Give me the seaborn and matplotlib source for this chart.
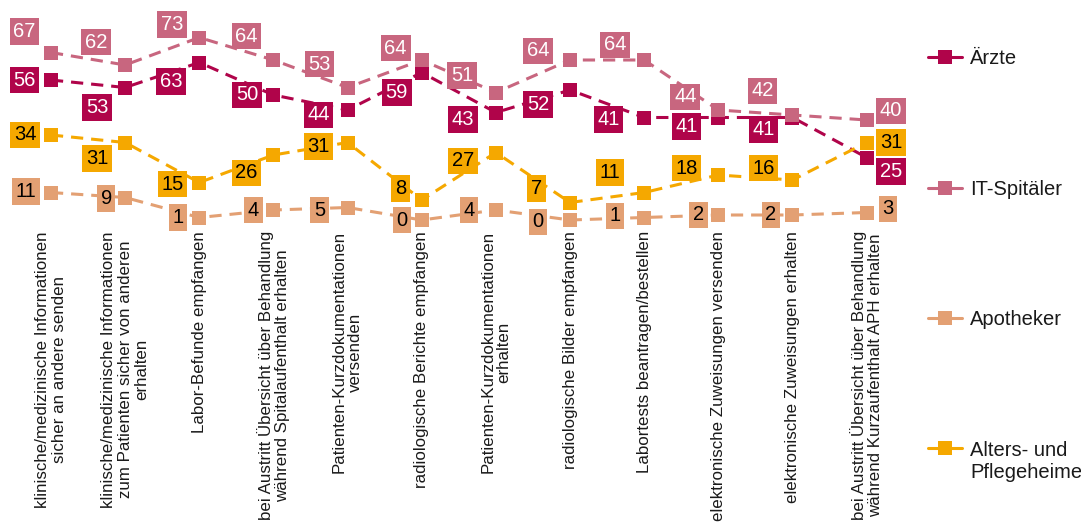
import numpy as np
import pandas as pd
import matplotlib
matplotlib.use("Agg")
import matplotlib.pyplot as plt
from matplotlib.lines import Line2D
import seaborn as sns

categories = [
    "klinische/medizinische Informationen\nsicher an andere senden",
    "klinische/medizinische Informationen\nzum Patienten sicher von anderen\nerhalten",
    "Labor-Befunde empfangen",
    "bei Austritt Übersicht über Behandlung\nwährend Spitalaufenthalt erhalten",
    "Patienten-Kurzdokumentationen\nversenden",
    "radiologische Berichte empfangen",
    "Patienten-Kurzdokumentationen\nerhalten",
    "radiologische Bilder empfangen",
    "Labortests beantragen/bestellen",
    "elektronische Zuweisungen versenden",
    "elektronische Zuweisungen erhalten",
    "bei Austritt Übersicht über Behandlung\nwährend Kurzaufenthalt APH erhalten",
]
series_names = ["Ärzte", "IT-Spitäler", "Apotheker", "Alters- und\nPflegeheime"]
aerzte = [56, 53, 63, 50, 44, 59, 43, 52, 41, 41, 41, 25]
it_spitaeler = [67, 62, 73, 64, 53, 64, 51, 64, 64, 44, 42, 40]
apotheker = [11, 9, 1, 4, 5, 0, 4, 0, 1, 2, 2, 3]
alters = [34, 31, 15, 26, 31, 8, 27, 7, 11, 18, 16, 31]

# styling
colors = ["#B0044A", "#C8667F", "#E3A073", "#F5A800"]
text_colors = ["white", "white", "black", "black"]
# label offsets in pixels (dx, dy up) relative to each marker
label_offsets = [
    [(-26.5, 0), (-28, -20), (-28, -19), (-26.5, 0), (-29, -5), (-25, -20),
     (-33, -7), (-32, -14.5), (-35.5, -2), (-32, -9), (-29, -12), (24.5, -14)],
    [(-26.5, 21), (-29, 23), (-27, 13), (-27, 24), (-28, 23.5), (-26, 12),
     (-34, 17), (-32, 9), (-29, 15), (-33, 13), (-30, 24), (24.5, 9.3)],
    [(-25, 1), (-19, -1), (-21, 0), (-20, 0), (-28, -2.6), (-20, 0),
     (-27, 0), (-32, -1.7), (-29, 1.6), (-20, 0), (-21.6, 0), (21.6, 3.6)],
    [(-26, 0), (-28, -16), (-27, -1.5), (-27, -18), (-29, -4), (-21, 11.5),
     (-33, -8.3), (-33.6, 14), (-34, 20), (-32, 7), (-29, 12), (24.5, 0)],
]

all_values = [aerzte, it_spitaeler, apotheker, alters]
rows = []
for name, vals in zip(series_names, all_values):
    for i, v in enumerate(vals):
        rows.append({"pos": i, "value": v, "series": name})
df = pd.DataFrame(rows)

sns.set_theme(style="white")
plt.rcParams["font.family"] = ["Liberation Sans", "DejaVu Sans"]

fig = plt.figure(figsize=(10.81, 5.23), dpi=100)
ax = fig.add_axes([13.9 / 1081, (523 - 220) / 523, 889.8 / 1081, 220 / 523])

sns.lineplot(
    data=df, x="pos", y="value", hue="series",
    palette=dict(zip(series_names, colors)), hue_order=series_names,
    marker="s", markersize=9.5, markeredgewidth=0,
    linewidth=2.2, linestyle=(0, (4, 2.6)), legend=False, ax=ax, clip_on=False,
)

for k, (name, vals) in enumerate(zip(series_names, all_values)):
    for i, v in enumerate(vals):
        dx, dy = label_offsets[k][i]
        ax.annotate(
            str(v), xy=(i, v), xytext=(dx, dy), textcoords="offset pixels",
            ha="center", va="center", fontsize=14.5, color=text_colors[k],
            bbox=dict(boxstyle="square,pad=0.18", fc=colors[k], ec="none"),
            annotation_clip=False, zorder=5,
        )

ax.set_xlim(-0.5, len(categories) - 0.5)
ax.set_ylim(0, 88)
ax.set_xticks(range(len(categories)))
ax.set_xticklabels(categories, rotation=90, fontsize=12.2, linespacing=1.1,
                   color="#1a1a1a")
ax.tick_params(axis="x", length=0, pad=8)
ax.set_yticks([])
ax.set_xlabel("")
ax.set_ylabel("")
for s in ax.spines.values():
    s.set_visible(False)

handles = [Line2D([], [], color=c, lw=2.2, marker="s", markersize=9.5,
                  markeredgewidth=0) for c in colors]
leg = fig.legend(handles, series_names, loc="upper left",
                 bbox_to_anchor=(928 / 1081, 1 - 49.5 / 523),
                 frameon=False, fontsize=14.5, handlelength=1.7,
                 handletextpad=0.4, labelspacing=5.53, borderpad=0,
                 borderaxespad=0, numpoints=1)
for t in leg.get_texts():
    t.set_color("#1a1a1a")
try:
    for col in leg._legend_handle_box.get_children():
        entries = col.get_children()
        entries[-1].align = "top"
except Exception:
    pass

fig.savefig("out.png", dpi=100)
